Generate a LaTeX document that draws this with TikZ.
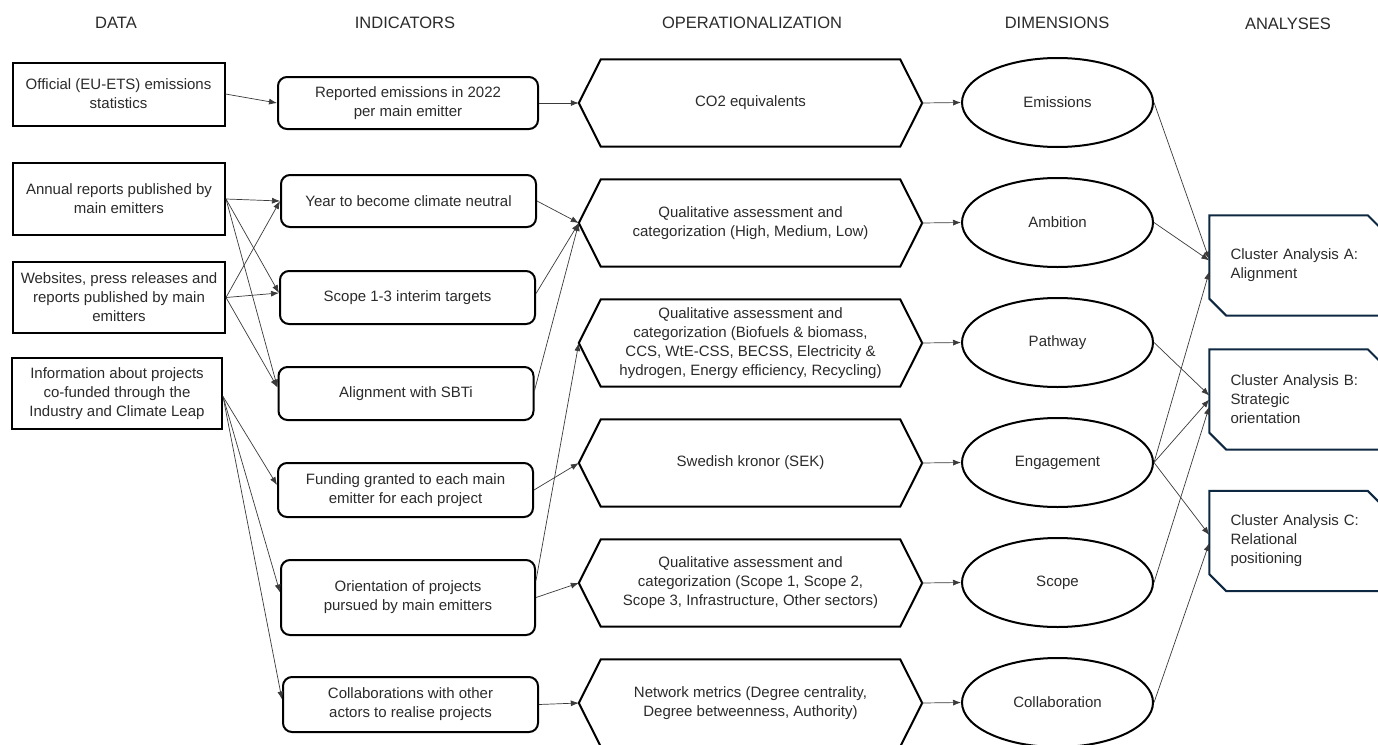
\documentclass[tikz,border=0pt]{standalone}
\usepackage{fontspec}
\setmainfont{Liberation Sans}
\usetikzlibrary{arrows.meta,shapes.geometric,calc}
\definecolor{txtcol}{HTML}{2B2B2B}
\definecolor{navycol}{HTML}{0E2841}
\definecolor{conncol}{HTML}{3A3A3A}
\begin{document}
\begin{tikzpicture}[x=1pt,y=-1pt,
  every node/.style={font=\fontsize{15}{19}\selectfont, text=txtcol},
  hdr/.style={font=\fontsize{16.5}{19}\selectfont},
  databox/.style={draw=black, line width=2pt, align=center, inner sep=0pt, minimum width=212pt},
  indbox/.style={draw=black, line width=2pt, rounded corners=9pt, align=center, inner sep=0pt, minimum width=255pt},
  hextext/.style={align=center, inner sep=0pt, minimum width=299pt, minimum height=87pt},
  hexborder/.style={draw=black, line width=2pt, line join=miter},
  dimell/.style={draw=black, line width=2pt, ellipse, minimum width=191pt, minimum height=89pt, inner sep=0pt},
  anatext/.style={inner sep=0pt, minimum width=175pt, minimum height=100pt, text width=133pt, align=left},
  anaborder/.style={draw=navycol, line width=2pt},
  cn/.style={draw=conncol, line width=0.7pt, -{Latex[length=8pt,width=6pt]}},
]
\fill[white] (0,0) rectangle (1378,744);
\useasboundingbox (0,0) rectangle (1378,744);
\clip (0,0) rectangle (1378,744);

% headers
\node[hdr] (h1) at (116,23) {DATA};
\node[hdr] (h2) at (405,23) {INDICATORS};
\node[hdr] (h3) at (752,23) {OPERATIONALIZATION};
\node[hdr] (h4) at (1057,23) {DIMENSIONS};
\node[hdr] (h5) at (1288,24) {ANALYSES};

% data
\node[databox, minimum height=63pt] (d1) at (118.5,94) {Official (EU-ETS) emissions\\statistics};
\node[databox, minimum height=72pt] (d2) at (119,199) {Annual reports published by\\main emitters};
\node[databox, minimum height=71pt] (d3) at (119,297.5) {Websites, press releases and\\reports published by main\\emitters};
\node[databox, minimum height=71pt, minimum width=210pt] (d4) at (117,393.5) {Information about projects\\co-funded through the\\Industry and Climate Leap};

% indicators
\node[indbox, minimum height=52pt, minimum width=260pt] (i1) at (408,103) {Reported emissions in 2022\\per main emitter};
\node[indbox, minimum height=52pt] (i2) at (408.5,201) {Year to become climate neutral};
\node[indbox, minimum height=53pt] (i3) at (407.5,297.5) {Scope 1-3 interim targets};
\node[indbox, minimum height=53pt] (i4) at (406,393.5) {Alignment with SBTi};
\node[indbox, minimum height=54pt] (i5) at (405.5,490) {Funding granted to each main\\emitter for each project};
\node[indbox, minimum height=75pt, minimum width=254pt] (i6) at (408,597.5) {Orientation of projects\\pursued by main emitters};
\node[indbox, minimum height=55pt] (i7) at (410.5,704.5) {Collaborations with other\\actors to realise projects};

% operationalization hexagons
\foreach \nm/\yy/\tx in {
  o1/103/{CO2 equivalents},
  o2/223/{Qualitative assessment and\\categorization (High, Medium, Low)},
  o3/343/{Qualitative assessment and\\categorization (Biofuels \& biomass,\\CCS, WtE-CSS, BECSS, Electricity \&\\hydrogen, Energy efficiency, Recycling)},
  o4/463/{Swedish kronor (SEK)},
  o5/583/{Qualitative assessment and\\categorization (Scope 1, Scope 2,\\Scope 3, Infrastructure, Other sectors)},
  o6/703/{Network metrics (Degree centrality,\\Degree betweenness, Authority)}}{
  \node[hextext] (\nm) at (750.5,\yy) {\tx};
  \coordinate (\nm l) at ([xshift=-22pt]\nm.west);
  \coordinate (\nm r) at ([xshift=22pt]\nm.east);
  \draw[hexborder] (\nm.north west) -- (\nm.north east) -- (\nm r) -- (\nm.south east) -- (\nm.south west) -- (\nm l) -- cycle;
}

% dimensions
\node[dimell] (e1) at (1057.5,102.5) {Emissions};
\node[dimell] (e2) at (1057.5,222.5) {Ambition};
\node[dimell] (e3) at (1057.5,342.5) {Pathway};
\node[dimell] (e4) at (1057.5,462.5) {Engagement};
\node[dimell] (e5) at (1057.5,582.5) {Scope};
\node[dimell] (e6) at (1057.5,702.5) {Collaboration};

% analyses
\foreach \nm/\yy/\tx in {ca/265.5/{Cluster Analysis A:\\Alignment}, cb/399.5/{Cluster Analysis B:\\Strategic\\orientation}, cc/541/{Cluster Analysis C:\\Relational\\positioning}}{
  \node[anatext] (\nm) at (1297,\yy) {\tx};
  \draw[anaborder] (\nm.north west) -- ([xshift=-17pt]\nm.north east) -- ([yshift=-17pt]\nm.north east) -- (\nm.south east) -- ([xshift=17pt]\nm.south west) -- ([yshift=17pt]\nm.south west) -- cycle;
}

% data -> indicators
\draw[cn] (d1.east) -- (i1.west);
\draw[cn] (d2.east) -- (i2.west);
\draw[cn] (d2.east) -- ([yshift=4.5pt]i3.west);
\draw[cn] (d2.east) -- ([yshift=6pt]i4.west);
\draw[cn] (d3.east) -- (i2.west);
\draw[cn] (d3.east) -- ([yshift=4.5pt]i3.west);
\draw[cn] (d3.east) -- ([yshift=6pt]i4.west);
\draw[cn] ([yshift=-3pt]d4.east) -- ([yshift=5pt]i5.west);
\draw[cn] ([yshift=-3pt]d4.east) -- ([yshift=5pt]i6.west);
\draw[cn] ([yshift=-3pt]d4.east) -- ([yshift=5pt]i7.west);

% indicators -> operationalization
\draw[cn] (i1.east) -- (o1l);
\draw[cn] (i2.east) -- (o2l);
\draw[cn] ([yshift=4pt]i3.east) -- (o2l);
\draw[cn] ([yshift=3pt]i4.east) -- (o2l);
\draw[cn] (i5.east) -- (o4l);
\draw[cn] ([yshift=17pt]i6.east) -- (o3l);
\draw[cn] (i6.east) -- (o5l);
\draw[cn] (i7.east) -- (o6l);

% operationalization -> dimensions
\foreach \k in {1,...,6}{\draw[cn] (o\k r) -- (e\k.west);}

% dimensions -> analyses
\draw[cn] (e1.east) -- ([yshift=6pt]ca.west);
\draw[cn] (e2.east) -- ([yshift=5pt]ca.west);
\draw[cn] (e4.east) -- ([yshift=-6pt]ca.west);
\draw[cn] (e3.east) -- ([yshift=4pt]cb.west);
\draw[cn] (e4.east) -- ([yshift=0pt]cb.west);
\draw[cn] (e5.east) -- ([yshift=-7pt]cb.west);
\draw[cn] (e4.east) -- ([yshift=6pt]cc.west);
\draw[cn] (e6.east) -- ([yshift=-2pt]cc.west);
\end{tikzpicture}
\end{document}
